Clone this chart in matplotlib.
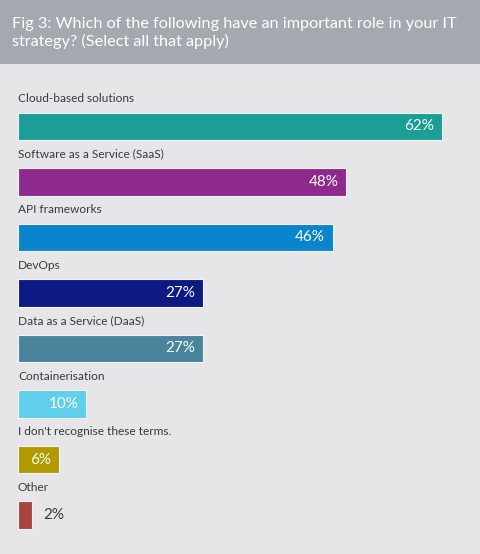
import matplotlib
matplotlib.use("Agg")
import matplotlib.pyplot as plt
from matplotlib.patches import Rectangle

title = "Fig 3: Which of the following have an important role in your IT\nstrategy? (Select all that apply)"
categories = ["Cloud-based solutions", "Software as a Service (SaaS)", "API frameworks",
              "DevOps", "Data as a Service (DaaS)", "Containerisation",
              "I don't recognise these terms.", "Other"]
values = [62, 48, 46, 27, 27, 10, 6, 2]
value_labels = ["62%", "48%", "46%", "27%", "27%", "10%", "6%", "2%"]
colors = ["#1a9e96", "#8e2a8e", "#0a84cc", "#0d1a84", "#4a849c", "#5fcfeb", "#b09a00", "#a8443c"]

W, H = 480, 554
fig = plt.figure(figsize=(W/100, H/100), dpi=100)
fig.patch.set_facecolor("#e6e6e8")

# header band
fig.patches.append(Rectangle((0, 1 - 64/H), 1, 64/H, transform=fig.transFigure,
                             facecolor="#a4a9b0", edgecolor="none", zorder=0))
fig.text(12/W, 1 - 33/H, title, color="white", fontsize=11.7, family="Lato",
         va="center", ha="left", linespacing=1.25)

ax = fig.add_axes([0, 0, 1, 1])
ax.set_facecolor("none")
px = 6.84
ax.set_xlim(-18/px, (W-18)/px)
y0, dy = 126.5, 55.5
ax.set_ylim((H - y0)/dy, -y0/dy)
ax.axis("off")

ys = list(range(len(values)))
ax.barh(ys, values, height=0.5, color=colors, edgecolor="#f4f4f6", linewidth=0.8)

for i, (c, v, lab) in enumerate(zip(categories, values, value_labels)):
    ax.text(0, i - 0.5, c, ha="left", va="center", fontsize=8.6, family="Lato", color="#3a3a3a")
    if v >= 5:
        ax.annotate(lab, (v, i), xytext=(-8, 0), textcoords="offset pixels",
                    ha="right", va="center", fontsize=11, family="Lato", color="white")
    else:
        ax.annotate(lab, (v, i), xytext=(12, 0), textcoords="offset pixels",
                    ha="left", va="center", fontsize=11, family="Lato", color="#3a3a3a")

fig.savefig("out.png", dpi=100)
